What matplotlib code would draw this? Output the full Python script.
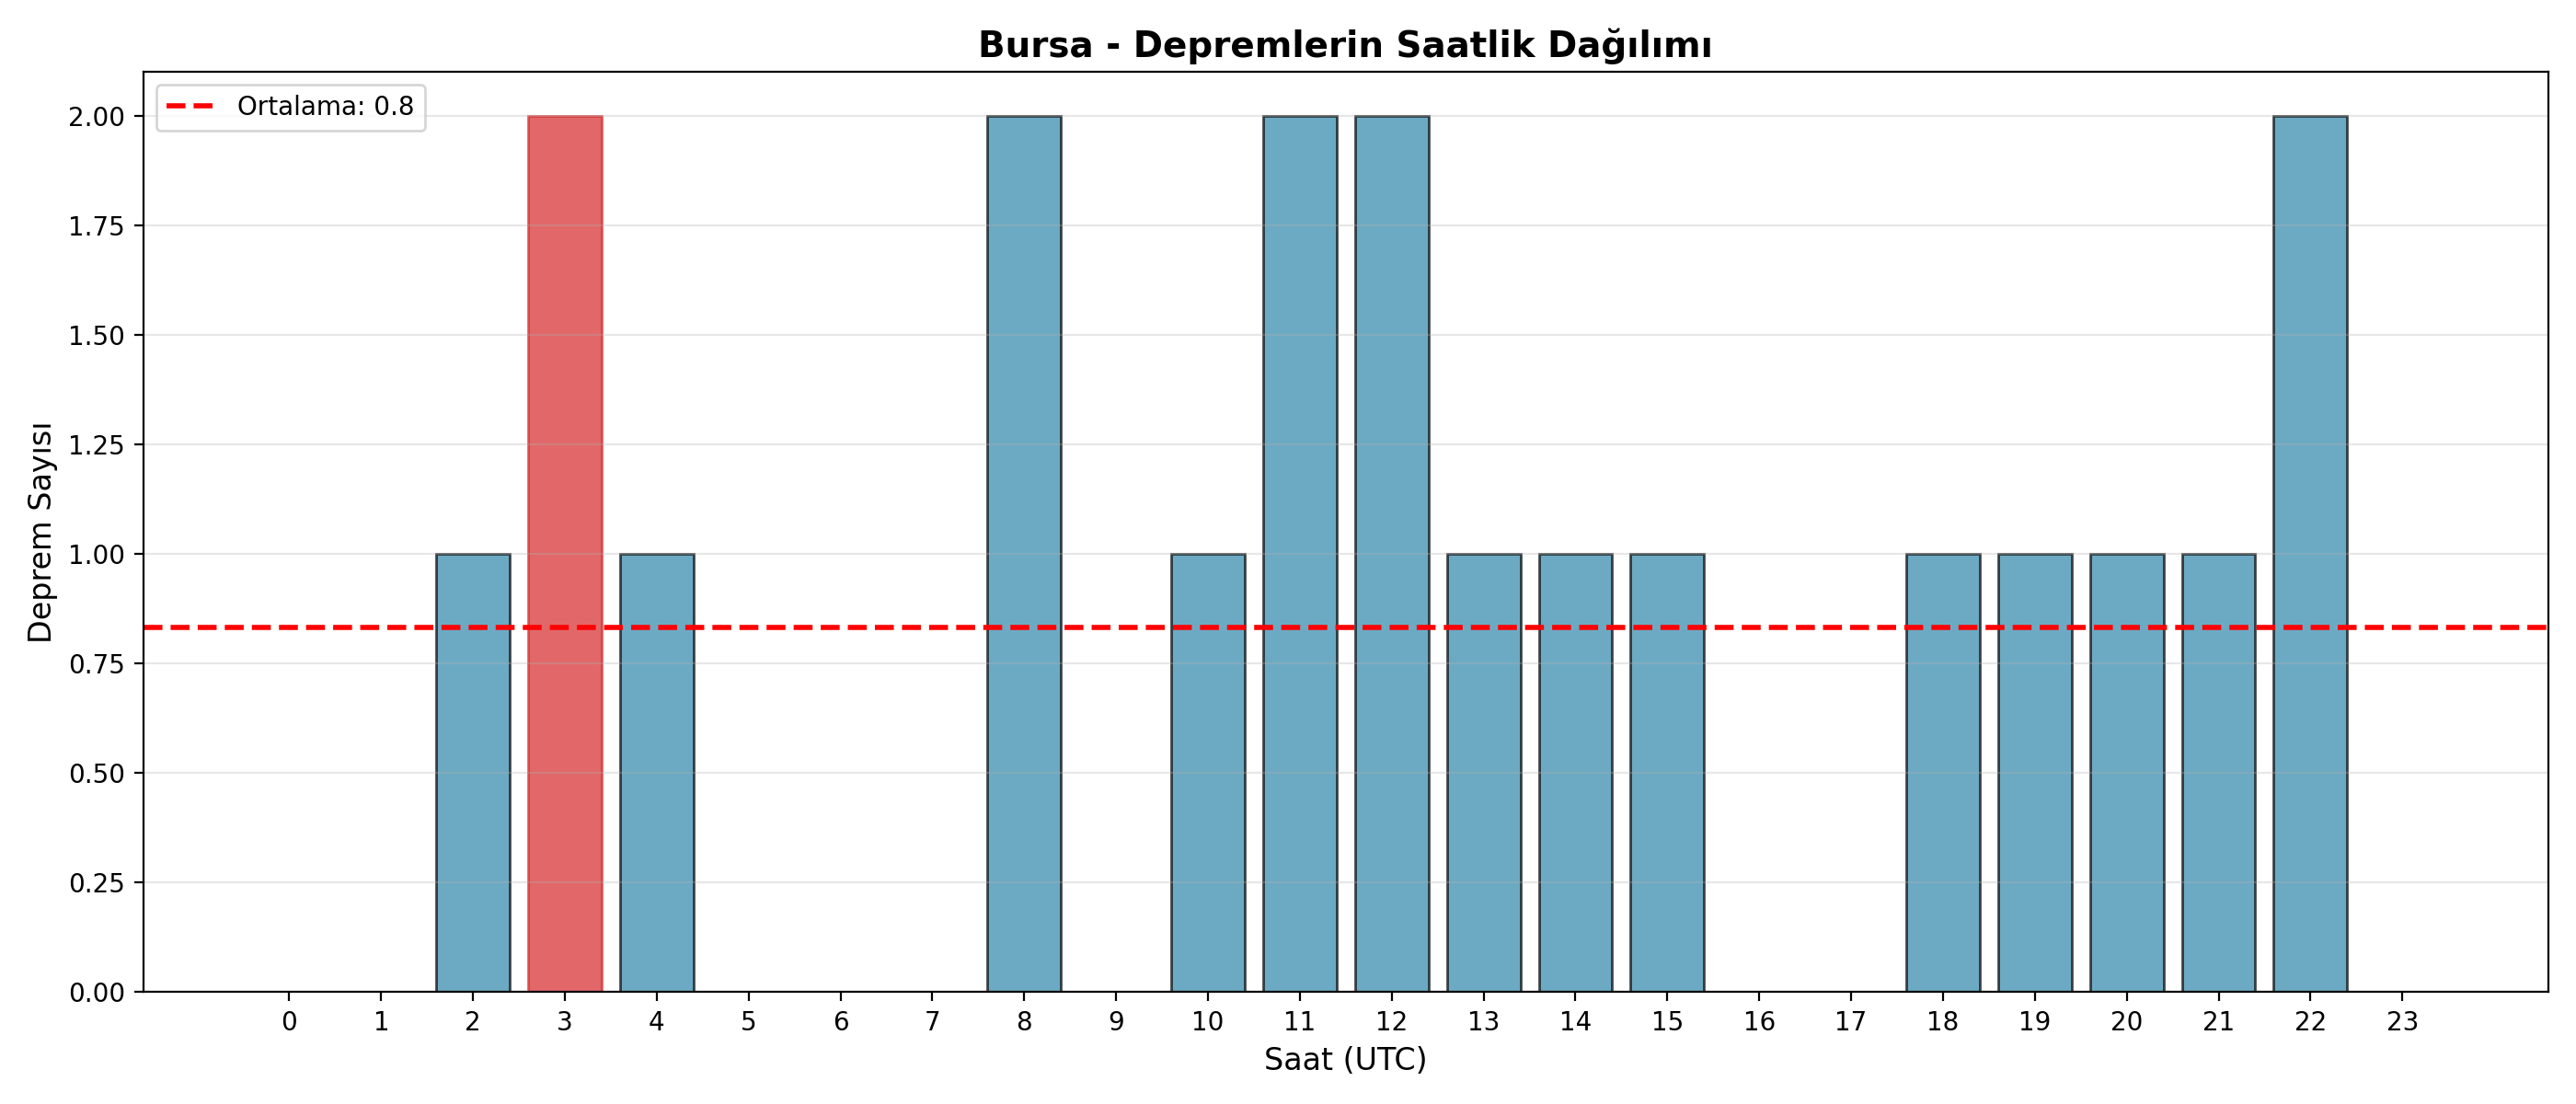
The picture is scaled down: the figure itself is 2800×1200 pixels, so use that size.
import matplotlib
matplotlib.use("Agg")
import matplotlib.pyplot as plt
import numpy as np

hours = list(range(24))
counts = [0, 0, 1, 2, 1, 0, 0, 0, 2, 0, 1, 2, 2, 1, 1, 1, 0, 0, 1, 1, 1, 1, 2, 0]
highlight_hour = 3

fig, ax = plt.subplots(figsize=(14, 6), dpi=200)
bars = ax.bar(hours, counts, color='#2E86AB', alpha=0.7, edgecolor='black')
bars[highlight_hour].set_color('#d62728')

mean_val = np.mean(counts)
ax.axhline(mean_val, color='red', linestyle='--', linewidth=2, label=f'Ortalama: {mean_val:.1f}')

ax.set_title('Bursa - Depremlerin Saatlik Dağılımı', fontsize=14, fontweight='bold')
ax.set_xlabel('Saat (UTC)', fontsize=12)
ax.set_ylabel('Deprem Sayısı', fontsize=12)
ax.set_xticks(hours)
ax.grid(axis='y', alpha=0.3)
ax.legend(loc='upper left')

plt.tight_layout()
plt.savefig('out.png', dpi=200)
